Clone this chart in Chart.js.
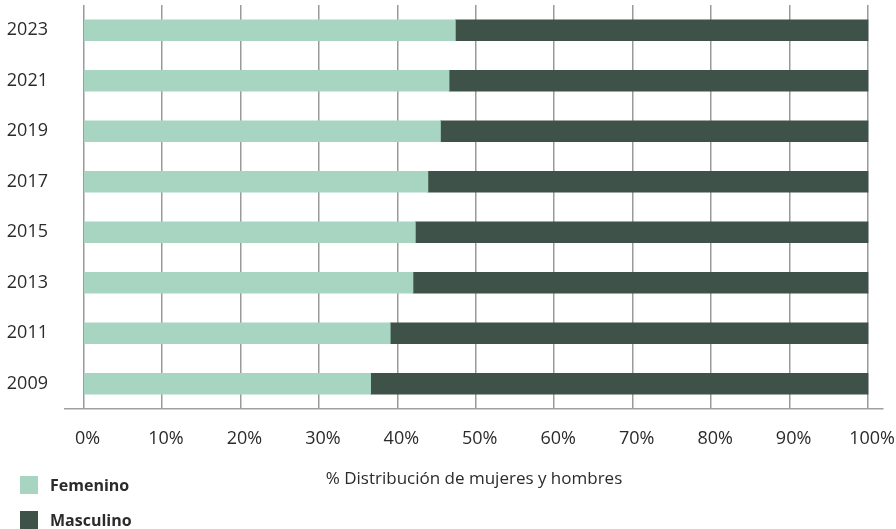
<!DOCTYPE html>
<html>
<head>
<meta charset="utf-8">
<script src="https://cdn.jsdelivr.net/npm/chart.js@4/dist/chart.umd.min.js"></script>
<style>
  html, body { margin: 0; padding: 0; background: #fff; }
  #wrap { position: relative; width: 896px; height: 529px; }
  canvas { position: absolute; left: 0; top: 0; }
  .leg { position: absolute; left: 20px; display: flex; align-items: center;
         font-family: "Open Sans", sans-serif; font-weight: bold; font-size: 16px; color: #2b2b2b; }
  .leg span.sw { display: inline-block; width: 18px; height: 18px; margin-right: 12px; }
</style>
</head>
<body>
<div id="wrap">
  <canvas id="c" width="896" height="529"></canvas>
  <div id="legend"></div>
</div>
<script>
const years = ['2023', '2021', '2019', '2017', '2015', '2013', '2011', '2009'];
const femenino = [47.4, 46.6, 45.5, 43.9, 42.3, 42.0, 39.1, 36.6];
const masculino = [52.6, 53.4, 54.5, 56.1, 57.7, 58.0, 60.9, 63.4];
const seriesNames = ['Femenino', 'Masculino'];
const xTicks = [0, 10, 20, 30, 40, 50, 60, 70, 80, 90, 100];
const axisTitle = '% Distribución de mujeres y hombres';

const colFem = '#a8d5c1';
const colMasc = '#3e5249';
const textCol = '#2b2b2b';
const gridCol = '#9a9a9a';

const chart = new Chart(document.getElementById('c'), {
  type: 'bar',
  data: {
    labels: years,
    datasets: [
      { label: seriesNames[0], data: femenino, backgroundColor: colFem, barThickness: 21 },
      { label: seriesNames[1], data: masculino, backgroundColor: colMasc, barThickness: 21 }
    ]
  },
  options: {
    indexAxis: 'y',
    responsive: false,
    animation: false,
    devicePixelRatio: 1,
    layout: { padding: { top: 5, right: 13, left: 0, bottom: 40 } },
    plugins: {
      legend: { display: false },
      tooltip: { enabled: false }
    },
    scales: {
      x: {
        stacked: true,
        min: -2.36,
        max: 101.91,
        afterBuildTicks: (s) => { s.ticks = xTicks.map(v => ({ value: v })); },
        afterFit: (s) => { s.paddingLeft = 0; s.paddingRight = 0; },
        grid: { display: true, drawOnChartArea: true, color: gridCol, lineWidth: 1.5, drawTicks: false },
        border: { display: true, color: '#a0a0a0', width: 1.5 },
        ticks: {
          padding: 19,
          labelOffset: 4,
          color: textCol,
          font: { family: 'Open Sans', size: 18 },
          callback: (v) => v + '%'
        },
        title: {
          display: true,
          text: axisTitle,
          color: textCol,
          font: { family: 'Open Sans', size: 17 },
          padding: { top: 0, bottom: 0 }
        }
      },
      y: {
        stacked: true,
        afterFit: (s) => { s.width = 65; s.paddingTop = 0; s.paddingBottom = 0; },
        grid: { display: false, drawTicks: false },
        border: { display: false },
        ticks: {
          padding: 17,
          color: textCol,
          font: { family: 'Open Sans', size: 18 }
        }
      }
    }
  }
});

const legendEl = document.getElementById('legend');
const legendTops = [474, 509];
chart.data.datasets.forEach((ds, i) => {
  const d = document.createElement('div');
  d.className = 'leg';
  d.style.top = legendTops[i] + 'px';
  d.innerHTML = '<span class="sw" style="background:' + ds.backgroundColor + '"></span><span>' + ds.label + '</span>';
  legendEl.appendChild(d);
});
</script>
</body>
</html>
